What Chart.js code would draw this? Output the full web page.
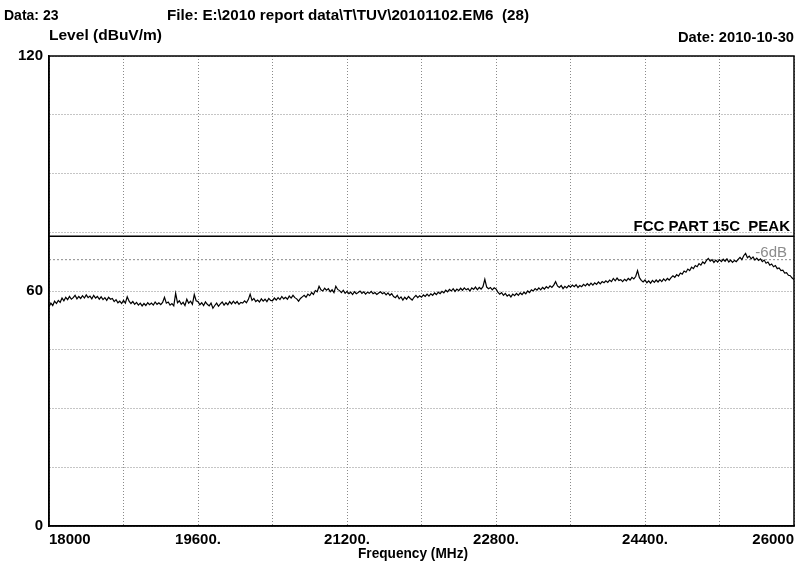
<!DOCTYPE html>
<html>
<head>
<meta charset="utf-8">
<script src="https://cdn.jsdelivr.net/npm/chart.js@4/dist/chart.umd.min.js"></script>
<style>
  html, body { margin: 0; padding: 0; background: #ffffff; }
  #wrap { width: 806px; height: 568px; }
</style>
</head>
<body>
<div id="wrap"><canvas id="c" width="806" height="568"></canvas></div>
<script>
// ---- header texts ----
const headerData = "Data: 23";
const headerFile = "File: E:\\2010 report data\\T\\TUV\\20101102.EM6  (28)";
const headerDate = "Date: 2010-10-30";
const yAxisTitle = "Level (dBuV/m)";
const xAxisTitle = "Frequency (MHz)";

// ---- axes ----
const freqMin = 18000, freqMax = 26000, freqGridStep = 800;
const xTickValues = [18000, 19600, 21200, 22800, 24400, 26000];
const xTickLabels = ["18000", "19600.", "21200.", "22800.", "24400.", "26000"];
const levelMin = 0, levelMax = 120, levelGridStep = 15;
const yTickValues = [0, 60, 120];
const yTickLabels = ["0", "60", "120"];

// ---- limit lines ----
const limitName = "FCC PART 15C  PEAK";
const limitFreqs = [18000, 26000];
const limitLevels = [74, 74];
const marginName = "-6dB";
const marginLevels = [68, 68];

// ---- measured trace (sampled every 20 MHz from 18000 MHz) ----
const traceStart = 18000, traceStep = 20;
const traceLevels = [
  56.0,56.9,56.3,57.4,56.8,57.6,57.1,58.2,57.5,58.4,57.8,58.6,57.9,58.3,58.9,58.0,58.6,58.1,58.8,58.2,
  59.0,58.3,58.7,58.0,58.9,58.2,58.6,57.9,58.5,57.8,58.3,57.6,58.4,57.9,58.1,57.3,57.8,57.0,57.4,56.8,
  57.6,56.9,58.5,57.4,56.8,57.3,56.6,57.1,56.4,56.9,56.2,56.8,56.3,57.0,56.5,56.9,56.4,57.2,56.6,57.0,
  56.5,57.1,58.4,56.9,57.2,56.4,56.8,56.2,59.4,57.0,57.5,56.6,57.1,56.3,57.9,56.9,57.4,56.6,59.1,57.5,
  57.3,56.5,57.0,56.3,57.2,56.6,56.2,56.9,55.6,56.3,56.9,56.1,56.7,57.2,56.4,57.0,56.5,57.3,56.7,57.4,
  56.8,57.3,56.6,57.1,56.9,57.5,57.0,57.8,59.2,57.6,58.1,57.3,57.7,57.2,58.0,57.4,57.9,57.3,58.1,57.6,
  57.5,58.2,57.7,58.3,57.8,58.6,58.0,58.4,57.9,58.7,58.2,58.9,58.3,58.0,57.4,58.1,58.5,58.9,58.4,59.2,
  58.8,59.6,59.1,60.1,59.8,61.2,60.3,60.0,60.7,60.2,60.6,59.8,60.3,59.6,61.2,60.4,60.1,59.6,60.2,59.4,
  59.9,59.3,59.7,59.1,59.8,59.3,59.6,60.0,59.4,59.8,59.2,59.7,59.4,59.9,59.3,59.6,59.1,59.5,59.8,59.3,
  59.6,59.0,59.5,58.9,59.3,58.6,58.3,58.9,58.0,58.5,57.7,58.4,57.9,58.6,58.1,57.7,58.4,58.9,58.3,58.8,
  58.4,59.0,58.6,59.2,58.7,59.3,58.9,59.5,59.1,59.7,59.3,59.9,59.5,60.2,59.8,60.4,60.0,60.6,59.9,60.5,
  60.1,60.7,60.2,60.8,60.3,60.6,60.0,60.8,60.4,61.0,60.3,60.9,60.5,61.1,63.0,61.0,60.6,60.9,60.3,60.8,
  60.5,59.7,59.2,59.6,58.9,59.4,58.7,59.1,58.5,59.2,58.8,59.4,58.9,59.5,59.1,59.7,59.3,60.0,59.6,60.3,
  60.0,60.6,60.2,60.8,60.3,60.9,60.5,61.1,60.7,61.3,60.9,61.5,62.4,61.3,60.9,61.4,60.6,61.2,60.8,61.4,
  61.0,61.5,61.1,61.6,60.9,61.4,61.1,61.7,61.3,61.9,61.4,62.0,61.5,62.1,61.7,62.3,61.8,62.4,62.1,62.6,
  62.2,62.8,62.4,63.2,62.6,63.3,62.7,62.9,62.4,63.0,62.6,63.2,62.8,63.5,63.1,63.7,65.2,63.4,62.7,62.3,
  62.8,62.1,62.6,62.0,62.7,62.2,62.8,62.3,62.9,62.4,63.1,62.6,63.2,62.8,63.4,63.9,63.5,64.2,63.8,64.6,
  64.3,65.1,64.8,65.6,65.2,66.1,65.7,66.5,66.2,67.0,66.6,67.4,67.0,67.8,68.3,67.6,68.0,67.3,67.9,67.4,
  68.0,67.5,68.1,67.6,68.2,67.4,67.9,67.3,67.8,67.5,68.1,68.6,68.0,69.0,69.6,68.5,68.9,68.2,68.7,67.9,
  68.4,67.8,68.2,67.5,67.9,67.1,67.4,66.6,66.9,66.2,66.5,65.7,65.9,65.2,65.3,64.6,64.7,64.0,63.9,63.3,
  62.9
];

// ---- build library data ----
const traceData = traceLevels.map((v, i) => ({ x: traceStart + i * traceStep, y: v }));
const limitData = limitFreqs.map((f, i) => ({ x: f, y: limitLevels[i] }));
const marginData = limitFreqs.map((f, i) => ({ x: f, y: marginLevels[i] }));

const FONT = "'Liberation Sans', Arial, sans-serif";

// draw text stretched horizontally to a target width (mimics the wide bitmap font)
function wideText(ctx, text, x, y, width, align) {
  const w = ctx.measureText(text).width;
  const s = width / w;
  ctx.save();
  const left = align === 'right' ? x - width : (align === 'center' ? x - width / 2 : x);
  ctx.translate(left, y);
  ctx.scale(s, 1);
  ctx.textAlign = 'left';
  ctx.fillText(text, 0, 0);
  ctx.restore();
}

const annotatePlugin = {
  id: 'annotate',
  afterDraw(chart) {
    const ctx = chart.ctx;
    const a = chart.chartArea;
    const ys = chart.scales.y;
    ctx.save();
    // frame
    ctx.strokeStyle = '#000';
    ctx.lineWidth = 1.5;
    ctx.strokeRect(a.left, a.top, a.right - a.left, a.bottom - a.top);
    // header texts
    ctx.fillStyle = '#000';
    ctx.font = "bold 14px " + FONT;
    ctx.textBaseline = 'alphabetic';
    ctx.textAlign = 'left';
    ctx.fillText(headerData, 4, 20);
    wideText(ctx, headerFile, 167, 20, 362, 'left');
    wideText(ctx, yAxisTitle, a.left, 40, 113, 'left');
    wideText(ctx, headerDate, a.right, 42, 116, 'right');
    wideText(ctx, xAxisTitle, 413, 558, 110, 'center');
    // limit labels
    ctx.font = "bold 15px " + FONT;
    ctx.textAlign = 'right';
    ctx.fillText(limitName, a.right - 4, ys.getPixelForValue(limitLevels[0]) - 5);
    ctx.fillStyle = '#8c8c8c';
    ctx.font = "15px " + FONT;
    ctx.fillText(marginName, a.right - 7, ys.getPixelForValue(marginLevels[0]) - 3);
    ctx.restore();
  }
};

new Chart(document.getElementById('c'), {
  type: 'line',
  data: {
    datasets: [
      { data: traceData, borderColor: '#000', borderWidth: 1.2, pointRadius: 0, tension: 0, fill: false },
      { data: limitData, borderColor: '#000', borderWidth: 1.5, pointRadius: 0, fill: false },
      { data: marginData, borderColor: '#8a8a8a', borderWidth: 1, borderDash: [2, 2], pointRadius: 0, fill: false }
    ]
  },
  options: {
    responsive: false,
    animation: false,
    events: [],
    layout: { padding: { left: 0, right: 12, top: 56, bottom: 0 } },
    plugins: { legend: { display: false }, tooltip: { enabled: false }, title: { display: false } },
    scales: {
      x: {
        type: 'linear',
        min: freqMin, max: freqMax,
        afterFit(scale) { scale.height = 42; },
        grid: { color: '#8a8a8a', lineWidth: 1, drawTicks: false },
        border: { display: true, color: '#000', width: 1.5, dash: [1, 2] },
        ticks: {
          stepSize: freqGridStep,
          autoSkip: false,
          maxRotation: 0,
          align: 'inner',
          padding: 5,
          color: '#000',
          font: { family: FONT, size: 15, weight: 'bold' },
          callback(value) {
            const i = xTickValues.indexOf(value);
            return i >= 0 ? xTickLabels[i] : '';
          }
        },
        title: { display: false }
      },
      y: {
        type: 'linear',
        min: levelMin, max: levelMax,
        afterFit(scale) { scale.width = 49; },
        grid: { color: '#8a8a8a', lineWidth: 1, drawTicks: false },
        border: { display: true, color: '#000', width: 1.5, dash: [1, 2] },
        ticks: {
          stepSize: levelGridStep,
          autoSkip: false,
          padding: 6,
          color: '#000',
          font: { family: FONT, size: 15, weight: 'bold' },
          callback(value) {
            const i = yTickValues.indexOf(value);
            return i >= 0 ? yTickLabels[i] : '';
          }
        }
      }
    }
  },
  plugins: [annotatePlugin]
});
</script>
</body>
</html>
